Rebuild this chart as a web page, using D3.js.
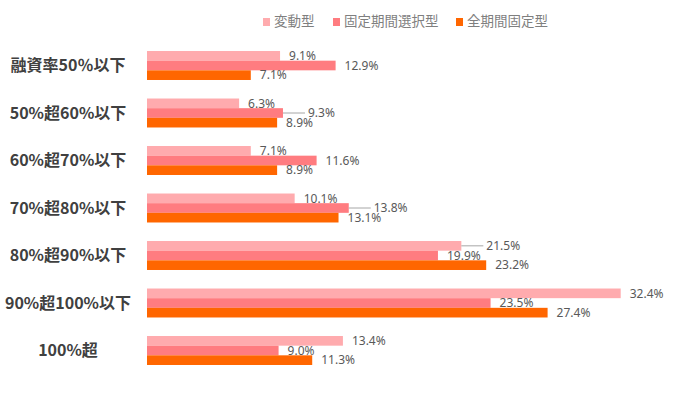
<!DOCTYPE html>
<html>
<head>
<meta charset="utf-8">
<script src="https://cdn.jsdelivr.net/npm/d3@7"></script>
<style>
  body { margin: 0; background: #fff; }
  svg { display: block; }
</style>
</head>
<body>
<div id="app"></div>
<script>
// Categories (loan-to-value buckets) and series
const categories = ["融資率50％以下", "50%超60%以下", "60%超70%以下", "70%超80%以下", "80%超90%以下", "90%超100%以下", "100%超"];
const seriesNames = ["変動型", "固定期間選択型", "全期間固定型"];
const variableRate = [9.1, 6.3, 7.1, 10.1, 21.5, 32.4, 13.4];
const fixedPeriod = [12.9, 9.3, 11.6, 13.8, 19.9, 23.5, 9.0];
const fullFixed = [7.1, 8.9, 8.9, 13.1, 23.2, 27.4, 11.3];

const colors = ["#FFABAE", "#FF7C80", "#FF6600"];
const seriesValues = [variableRate, fixedPeriod, fullFixed];

const width = 675;
const height = 397;

const svg = d3.select("#app")
  .append("svg")
  .attr("width", width)
  .attr("height", height);

// Scales
const xScale = d3.scaleLinear()
  .domain([0, 32.4])
  .range([147, 620.7]);

const yScale = d3.scaleBand()
  .domain(categories)
  .range([41.75, 374.25])
  .paddingInner(0.39)
  .paddingOuter(0.195);

const ySub = d3.scaleBand()
  .domain(seriesNames)
  .range([0, yScale.bandwidth()]);

// Flatten into rows for drawing
const rows = [];
categories.forEach((c, i) => {
  seriesNames.forEach((s, j) => {
    rows.push({ cat: c, series: s, si: j, ci: i, value: seriesValues[j][i] });
  });
});

// Bars
svg.append("g")
  .selectAll("rect")
  .data(rows)
  .enter()
  .append("rect")
  .attr("x", xScale(0))
  .attr("y", d => yScale(d.cat) + ySub(d.series))
  .attr("width", d => xScale(d.value) - xScale(0))
  .attr("height", ySub.bandwidth())
  .attr("fill", d => colors[d.si]);

// Data labels: if a label would collide with the neighbouring label,
// push the longer bar's label to the right and add a leader line
const labelG = svg.append("g");
categories.forEach((c, i) => {
  const labels = seriesNames.map((s, j) => {
    const v = seriesValues[j][i];
    const t = labelG.append("text")
      .attr("x", xScale(v) + 9)
      .attr("y", yScale(c) + ySub(s) + ySub.bandwidth() / 2 + 1)
      .attr("dominant-baseline", "middle")
      .attr("font-family", "'Noto Sans', 'DejaVu Sans', sans-serif")
      .attr("font-size", 12)
      .attr("fill", "#595959")
      .text(v.toFixed(1) + "%");
    return { t, v, j, x: xScale(v) + 9, w: t.node().getComputedTextLength() };
  });
  const overlap = (a, b) => a.x < b.x + b.w && b.x < a.x + a.w;
  [[0, 1], [1, 2]].forEach(([a, b]) => {
    const A = labels[a], B = labels[b];
    if (overlap(A, B)) {
      const mover = A.v > B.v ? A : B;
      const end = xScale(mover.v);
      mover.x += 16;
      mover.t.attr("x", mover.x);
      labelG.append("line")
        .attr("x1", end)
        .attr("x2", mover.x - 3)
        .attr("y1", +mover.t.attr("y") - 1)
        .attr("y2", +mover.t.attr("y") - 1)
        .attr("stroke", "#a6a6a6")
        .attr("stroke-width", 1);
    }
  });
});

// Category labels (y axis, no line)
const yAxis = d3.axisLeft(yScale).tickSize(0).tickPadding(0);
const yAxisG = svg.append("g")
  .attr("transform", "translate(68, 0)")
  .call(yAxis);
yAxisG.select(".domain").remove();
yAxisG.selectAll("text")
  .attr("text-anchor", "middle")
  .attr("x", 0)
  .attr("dy", "0.36em")
  .attr("font-family", "'Noto Sans CJK JP', sans-serif")
  .attr("font-weight", "bold")
  .attr("font-size", 16)
  .attr("fill", "#404040");

// Legend
const legendX = [263, 333, 456];
const legend = svg.append("g")
  .selectAll("g")
  .data(seriesNames)
  .enter()
  .append("g")
  .attr("transform", (d, i) => `translate(${legendX[i]}, 22)`);

legend.append("rect")
  .attr("x", 0)
  .attr("y", -4)
  .attr("width", 7)
  .attr("height", 8)
  .attr("fill", (d, i) => colors[i]);

legend.append("text")
  .attr("x", 11)
  .attr("y", 0)
  .attr("dominant-baseline", "middle")
  .attr("font-family", "'Noto Sans CJK JP', sans-serif")
  .attr("font-size", 13.5)
  .attr("fill", "#7f7f7f")
  .text(d => d);
</script>
</body>
</html>
